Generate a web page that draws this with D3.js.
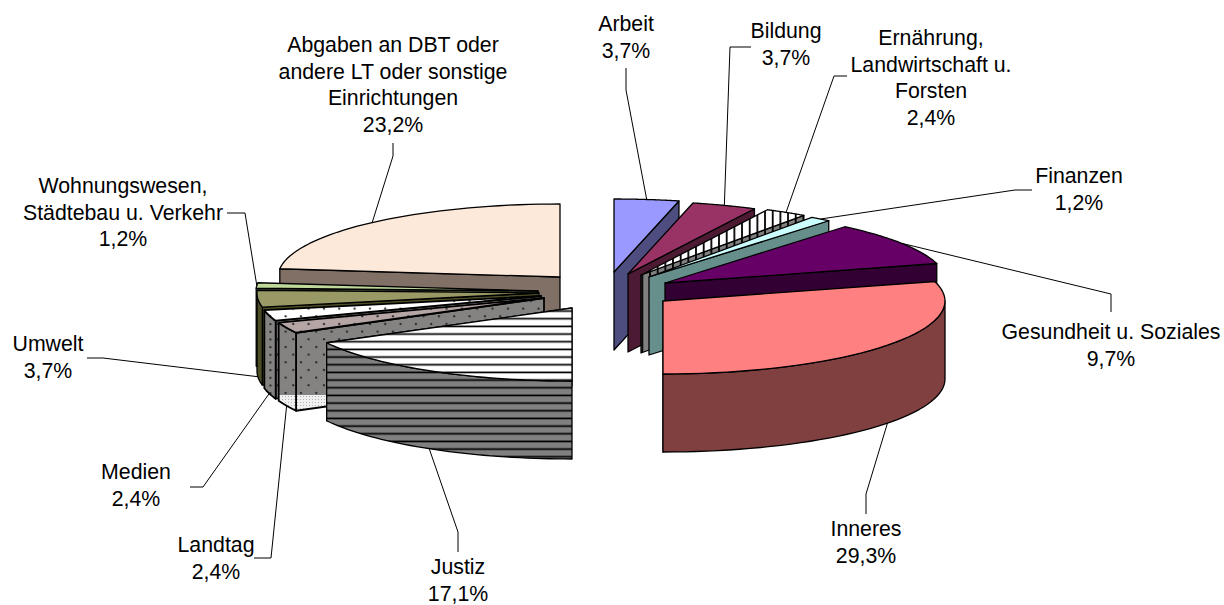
<!DOCTYPE html>
<html><head><meta charset="utf-8"><style>html,body{margin:0;background:#fff}svg{display:block}text{font-family:"Liberation Sans",Arial,sans-serif;font-size:21.3px;fill:#000}</style>
<script src="https://cdnjs.cloudflare.com/ajax/libs/d3/7.8.5/d3.min.js"></script></head><body><script>
const categories=["Arbeit","Bildung","Ernährung, Landwirtschaft u. Forsten","Finanzen","Gesundheit u. Soziales","Inneres","Justiz","Landtag","Medien","Umwelt","Wohnungswesen, Städtebau u. Verkehr","Abgaben an DBT oder andere LT oder sonstige Einrichtungen"];
const values=[3.7,3.7,2.4,1.2,9.7,29.3,17.1,2.4,2.4,3.7,1.2,23.2];
const labelLines=[["Arbeit","3,7%"],["Bildung","3,7%"],["Ernährung,","Landwirtschaft u.","Forsten","2,4%"],["Finanzen","1,2%"],["Gesundheit u. Soziales","9,7%"],["Inneres","29,3%"],["Justiz","17,1%"],["Landtag","2,4%"],["Medien","2,4%"],["Umwelt","3,7%"],["Wohnungswesen,","Städtebau u. Verkehr","1,2%"],["Abgaben an DBT oder","andere LT oder sonstige","Einrichtungen","23,2%"]];
// layout: exploded apex, radius, fills, label placement
const apex=[[614,272],[628,274],[641,275],[649,277],[665,283],[663,301],[572,308],[544,298],[541,296],[539,293],[538,291],[560,277]];
const radiusX=[282,282,282,282,282,282,279,282,282,282,282,282];
const topFill=["#9999ff","#993366","url(#vl)","#ccffff","#660066","#ff8080","url(#hl)","url(#dm)","url(#dw)","#999966","#bfd99a","#fde9d9"];
const wallFill=["#4d4d80","#4d1a33","url(#vd)","#668f8c","#330033","#804040","url(#hd)","url(#dg)","url(#dg)","#4d4d26","#5f6d4d","#807066"];
const rimFill=["#4d4d80","#4d1a33","url(#vd)","#668f8c","#330033","#804040","url(#hd)","url(#dp)","url(#dd)","#4d4d26","#5f6d4d","#807066"];
const strokeW=[1.3,1.3,1.3,1.3,1.3,1.3,1.3,1.8,1.8,1.3,1.3,1.3];
const labelPos=[[626,24],[786,31],[931,38],[1079,176],[1111,332],[866,529],[458,567],[216,545],[136,472],[48,344],[123,186],[393,45]];
const elbows=[[[626,68],[626,90]],[[751,47],[730,47]],[[847,76],[834,76]],[[1032,190],[1015,190]],[[1111,312],[1111,294]],[[866,514],[866,494]],[[458,552],[458,532]],[[254,558],[271,558]],[[190,487],[203,487]],[[87,358],[103,358]],[[227,213],[245,213]],[[393,143],[393,156]]];
const leaderOnWall=[0,0,0,0,0,1,1,1,1,1,0,0];
const RY=73,DEPTH=78,LH=26.6;
const W=1224,H=605;
const svg=d3.select("body").append("svg").attr("width",W).attr("height",H);
const defs=svg.append("defs");
function pat(id,w,h,bg,draw){const p=defs.append("pattern").attr("id",id).attr("patternUnits","userSpaceOnUse").attr("width",w).attr("height",h);p.append("rect").attr("width",w).attr("height",h).attr("fill",bg);draw(p);}
const hl=p=>p.append("rect").attr("y",3.4).attr("width",8).attr("height",1.7).attr("fill","#000");
pat("hl",8,7.67,"#fff",hl);pat("hd",8,7.67,"#808080",hl);
const vl=p=>p.append("rect").attr("x",4.8).attr("width",1.8).attr("height",8).attr("fill","#000");
pat("vl",7.67,8,"#fff",vl);pat("vd",7.67,8,"#808080",vl);
const dots=c=>p=>{p.append("circle").attr("cx",2).attr("cy",2).attr("r",1.15).attr("fill",c);p.append("circle").attr("cx",9.67).attr("cy",9.67).attr("r",1.15).attr("fill",c);};
pat("dw",15.33,15.33,"#fff",dots("#222"));pat("dm",15.33,15.33,"#b5a5a5",dots("#222"));pat("dg",15.33,15.33,"#858282",dots("#222"));
pat("dd",7.67,7.67,"#858282",p=>p.append("circle").attr("cx",2).attr("cy",2).attr("r",1.15).attr("fill","#222"));
pat("dp",3,3,"#f0f0f0",p=>p.append("rect").attr("width",1).attr("height",1).attr("fill","#b0b0b0"));
defs.append("clipPath").attr("id","upper").append("rect").attr("width",W).attr("height",395);
defs.append("clipPath").attr("id","lower").append("rect").attr("y",395).attr("width",W).attr("height",H-395);
const pie=d3.pie().sort(null).value(d=>d)(values);
const pt=(i,a,dz=0)=>[apex[i][0]+radiusX[i]*Math.sin(a),apex[i][1]-RY*Math.cos(a)+dz];
const line=d3.line();
function arcPts(i,a0,a1,dz=0){return d3.range(0,41).map(k=>pt(i,a0+(a1-a0)*k/40,dz));}
function area(i,pts,fill,clip){const p=svg.append("path").attr("d",line(pts)+"Z").attr("fill",fill).attr("stroke","#000").attr("stroke-width",strokeW[i]).attr("stroke-linejoin","round");if(clip)p.attr("clip-path",`url(#${clip})`);return p;}
function drawTop(i,a0,a1){area(i,[apex[i]].concat(arcPts(i,a0,a1)),topFill[i]);}
const order=[11,10,9,8,7,0,1,2,3,4,5,6];
order.forEach(i=>{
  const {startAngle:a0,endAngle:a1}=pie[i];
  const ap=apex[i],ab=[ap[0],ap[1]+DEPTH];
  const edge=a0>=Math.PI?a0:a1; // visible cut face
  const wp=[ap,pt(i,edge),pt(i,edge,DEPTH),ab];
  const r0=Math.max(a0,Math.PI/2),r1=Math.min(a1,Math.PI*1.5);
  const hasRim=r1>r0;
  if(i===7){
    [["upper","url(#dg)"],["lower","url(#dp)"]].forEach(([c,f])=>{area(i,wp,f,c);area(i,arcPts(i,r0,r1).concat(arcPts(i,r1,r0,DEPTH)),f,c);});
    return drawTop(i,a0,a1);
  }
  area(i,wp,wallFill[i]);
  if(hasRim)area(i,arcPts(i,r0,r1).concat(arcPts(i,r1,r0,DEPTH)),rimFill[i]);
  drawTop(i,a0,a1);
});
// leaders
values.forEach((v,i)=>{
  const m=(pie[i].startAngle+pie[i].endAngle)/2;
  const pts=elbows[i].concat([pt(i,m,leaderOnWall[i]?DEPTH:0)]);
  svg.append("path").attr("d",line(pts)).attr("fill","none").attr("stroke","#000").attr("stroke-width",1);
});
// labels
labelLines.forEach((ls,i)=>{
  const t=svg.append("text").attr("text-anchor","middle");
  ls.forEach((s,k)=>t.append("tspan").attr("x",labelPos[i][0]).attr("y",labelPos[i][1]+7+k*LH).text(s));
});
</script></body></html>
